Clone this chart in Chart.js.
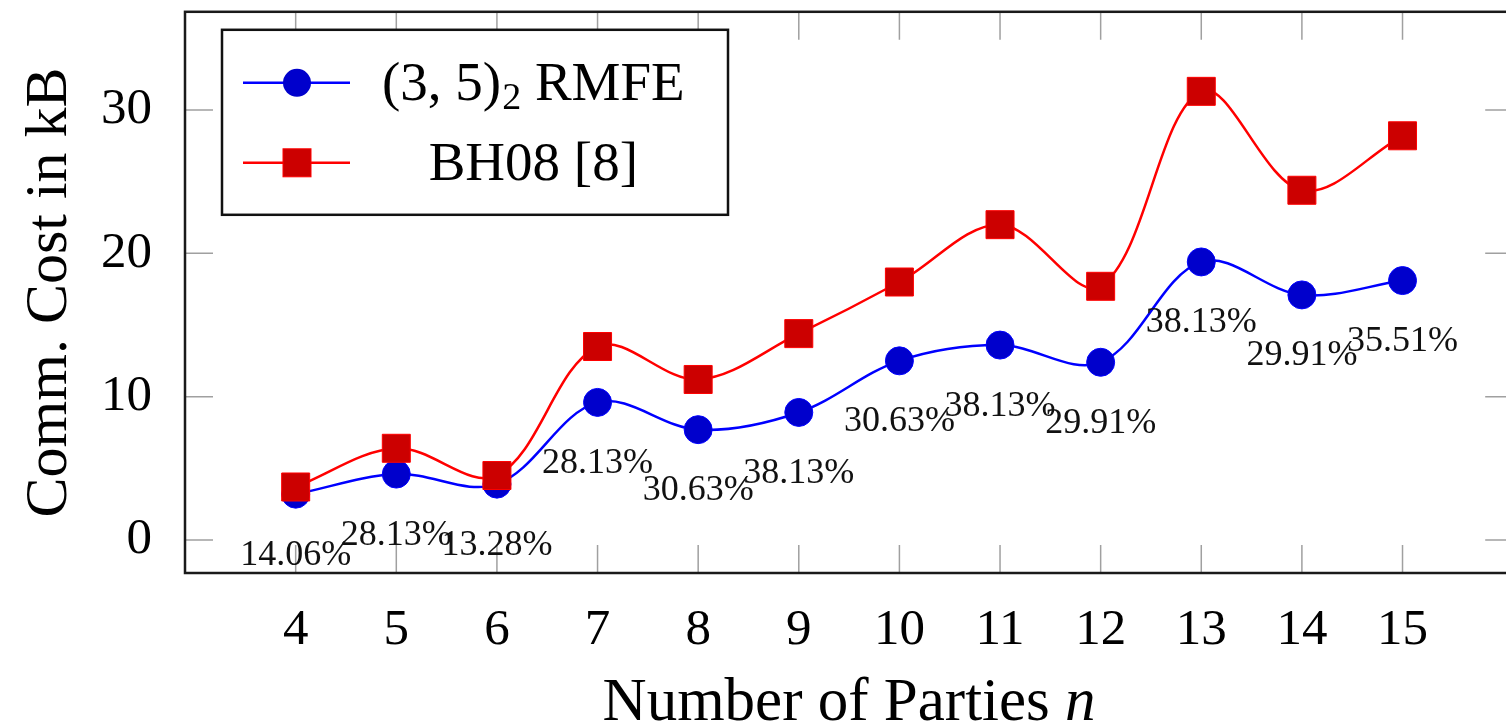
<!DOCTYPE html>
<html><head><meta charset="utf-8">
<script src="https://cdn.jsdelivr.net/npm/chart.js@4.4.0/dist/chart.umd.min.js"></script>
<style>html,body{margin:0;padding:0;background:#fff;overflow:hidden;width:1506px;height:725px}canvas{display:block;margin-top:-9px}</style>
</head><body>
<canvas id="c" width="1534" height="734"></canvas>
<script>
const parties = [4, 5, 6, 7, 8, 9, 10, 11, 12, 13, 14, 15];
const rmfeCost = [3.2, 4.6, 3.9, 9.6, 7.7, 8.9, 12.5, 13.6, 12.4, 19.4, 17.1, 18.1];
const bh08Cost = [3.7, 6.4, 4.5, 13.5, 11.2, 14.4, 18.0, 22.0, 17.7, 31.3, 24.4, 28.2];
const savings = ['14.06%', '28.13%', '13.28%', '28.13%', '30.63%', '38.13%', '30.63%', '38.13%', '29.91%', '38.13%', '29.91%', '35.51%'];
const xTicks = [4, 5, 6, 7, 8, 9, 10, 11, 12, 13, 14, 15];
const yTicks = [0, 10, 20, 30];
const rmfeLabel = ['(3, 5)', '2', ' RMFE'];
const bh08Label = 'BH08 [8]';
const xTitle = ['Number of Parties ', 'n'];
const yTitle = 'Comm. Cost in kB';

const SERIF = '"Liberation Serif", "Times New Roman", serif';
const BLUE = '#0000ff', BLUE_FILL = '#0000cc', RED = '#ff0000', RED_FILL = '#cc0000';

const overlay = {
  id: 'overlay',
  beforeDatasetsDraw(chart) {
    const ctx = chart.ctx, a = chart.chartArea;
    const xs = chart.scales.x, ys = chart.scales.y;
    ctx.save();
    ctx.strokeStyle = '#a0a0a0';
    ctx.lineWidth = 1.5;
    const L = 28;
    ctx.beginPath();
    xTicks.forEach(v => {
      const px = xs.getPixelForValue(v);
      ctx.moveTo(px, a.bottom); ctx.lineTo(px, a.bottom - L);
      ctx.moveTo(px, a.top); ctx.lineTo(px, a.top + L);
    });
    yTicks.forEach(v => {
      const py = ys.getPixelForValue(v);
      ctx.moveTo(a.left, py); ctx.lineTo(a.left + L, py);
      ctx.moveTo(a.right, py); ctx.lineTo(a.right - L, py);
    });
    ctx.stroke();
    ctx.restore();
  },
  afterDatasetsDraw(chart) {
    const ctx = chart.ctx, a = chart.chartArea;
    const xs = chart.scales.x, ys = chart.scales.y;
    ctx.save();
    // frame
    ctx.strokeStyle = '#1a1a1a';
    ctx.lineWidth = 2.5;
    ctx.strokeRect(a.left, a.top, a.right - a.left, a.bottom - a.top);
    // savings labels below the RMFE points
    ctx.fillStyle = '#111';
    ctx.font = '36px ' + SERIF;
    ctx.textAlign = 'center';
    ctx.textBaseline = 'middle';
    parties.forEach((p, i) => {
      ctx.fillText(savings[i], xs.getPixelForValue(p), ys.getPixelForValue(rmfeCost[i]) + 61);
    });
    // legend
    const lx = a.left + 37, ly = a.top + 18, lw = 506, lh = 185;
    ctx.fillStyle = '#fff';
    ctx.fillRect(lx, ly, lw, lh);
    ctx.strokeStyle = '#111';
    ctx.lineWidth = 2.5;
    ctx.strokeRect(lx, ly, lw, lh);
    const sx0 = lx + 21, sx1 = lx + 128, smid = lx + 75;
    const r1 = ly + 53, r2 = ly + 133;
    ctx.lineWidth = 2.5;
    ctx.strokeStyle = BLUE;
    ctx.beginPath(); ctx.moveTo(sx0, r1); ctx.lineTo(sx1, r1); ctx.stroke();
    ctx.fillStyle = BLUE_FILL;
    ctx.beginPath(); ctx.arc(smid, r1, 14, 0, Math.PI * 2); ctx.fill();
    ctx.strokeStyle = RED;
    ctx.beginPath(); ctx.moveTo(sx0, r2); ctx.lineTo(sx1, r2); ctx.stroke();
    ctx.fillStyle = RED_FILL;
    ctx.fillRect(smid - 14, r2 - 14, 28, 28);
    ctx.lineWidth = 1;
    ctx.strokeRect(smid - 14, r2 - 14, 28, 28);
    ctx.fillStyle = '#000';
    ctx.textAlign = 'left';
    ctx.textBaseline = 'alphabetic';
    const big = '55px ' + SERIF, small = '38px ' + SERIF;
    let tx = lx + 160;
    const b1 = r1 + 17;
    ctx.font = big; ctx.fillText(rmfeLabel[0], tx, b1); tx += ctx.measureText(rmfeLabel[0]).width;
    ctx.font = small; ctx.fillText(rmfeLabel[1], tx + 1, b1 + 9); tx += ctx.measureText(rmfeLabel[1]).width + 1;
    ctx.font = big; ctx.fillText(rmfeLabel[2], tx, b1); tx += ctx.measureText(rmfeLabel[2]).width;
    const centre = (lx + 160 + tx) / 2;
    ctx.textAlign = 'center';
    ctx.fillText(bh08Label, centre, r2 + 17);
    // x title with italic n
    ctx.textAlign = 'left';
    const f1 = '61px ' + SERIF, f2 = 'italic 61px ' + SERIF;
    ctx.font = f1; const w1 = ctx.measureText(xTitle[0]).width;
    ctx.font = f2; const w2 = ctx.measureText(xTitle[1]).width;
    const cx = (a.left + a.right) / 2;
    let x0 = cx - (w1 + w2) / 2;
    const by = a.bottom + 147;
    ctx.font = f1; ctx.fillText(xTitle[0], x0, by);
    ctx.font = f2; ctx.fillText(xTitle[1], x0 + w1, by);
    ctx.restore();
  }
};

new Chart(document.getElementById('c'), {
  type: 'line',
  data: {
    datasets: [
      {
        label: bh08Label,
        data: parties.map((p, i) => ({x: p, y: bh08Cost[i]})),
        borderColor: RED, borderWidth: 2.5,
        pointStyle: 'rect', pointRadius: 19.8,
        pointBackgroundColor: RED_FILL, pointBorderColor: RED, pointBorderWidth: 1,
        tension: 0.35
      },
      {
        label: rmfeLabel.join(''),
        data: parties.map((p, i) => ({x: p, y: rmfeCost[i]})),
        borderColor: BLUE, borderWidth: 2.5,
        pointStyle: 'circle', pointRadius: 14,
        pointBackgroundColor: BLUE_FILL, pointBorderColor: BLUE, pointBorderWidth: 1,
        tension: 0.35
      }
    ]
  },
  options: {
    responsive: false, animation: false, devicePixelRatio: 1,
    layout: {padding: {left: 0, top: 12, right: 7, bottom: 0}},
    plugins: {legend: {display: false}, tooltip: {enabled: false}},
    scales: {
      x: {
        type: 'linear', min: 2.9, max: 16.1,
        afterBuildTicks: s => { s.ticks = xTicks.map(v => ({value: v})); },
        afterFit: s => { s.height = 152; s.paddingLeft = 0; s.paddingRight = 0; },
        grid: {display: false, drawTicks: false}, border: {display: false},
        ticks: {color: '#000', font: {family: SERIF, size: 51}, padding: 27, maxRotation: 0, autoSkip: false}
      },
      y: {
        type: 'linear', min: -2.3, max: 36.85,
        afterBuildTicks: s => { s.ticks = yTicks.map(v => ({value: v})); },
        afterFit: s => { s.width = 185; s.paddingTop = 0; s.paddingBottom = 0; },
        grid: {display: false, drawTicks: false}, border: {display: false},
        ticks: {color: '#000', font: {family: SERIF, size: 51}, padding: 33},
        title: {display: true, text: yTitle, color: '#000', font: {family: SERIF, size: 60, lineHeight: 1.2}, padding: {top: 14, bottom: 0}}
      }
    }
  },
  plugins: [overlay]
});
</script>
</body></html>
